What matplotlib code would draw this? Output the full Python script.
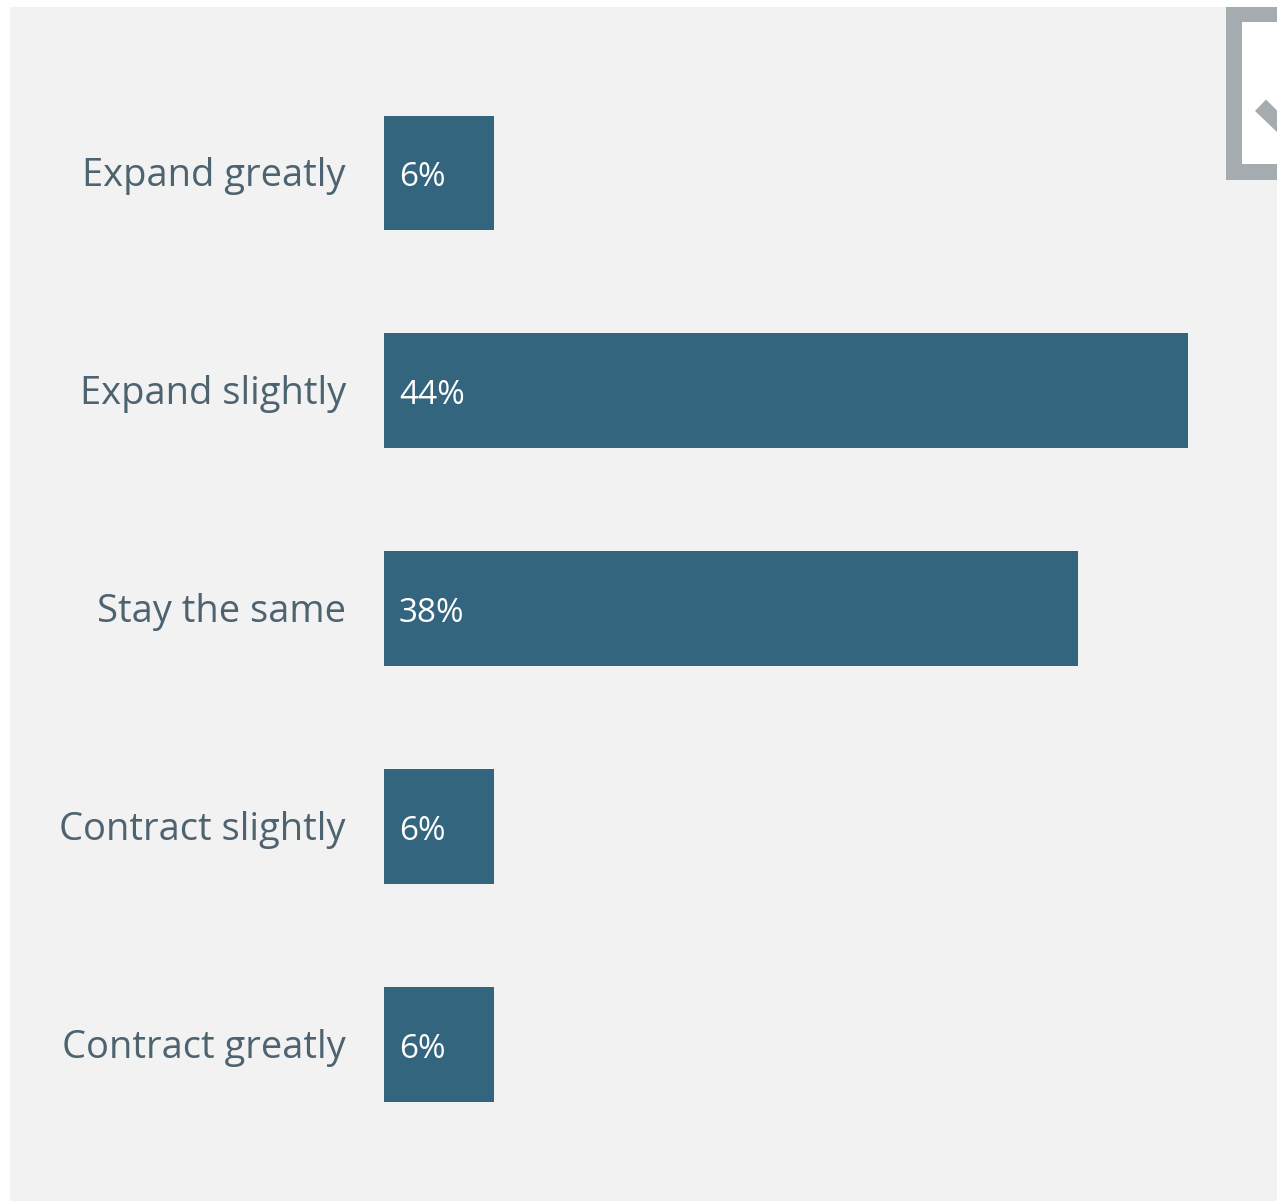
import matplotlib
matplotlib.use("Agg")
import matplotlib.pyplot as plt
from matplotlib.patches import Polygon, Rectangle
from matplotlib.transforms import ScaledTranslation

categories = ["Expand greatly", "Expand slightly", "Stay the same", "Contract slightly", "Contract greatly"]
values = [6, 44, 38, 6, 6]
labels = ["6%", "44%", "38%", "6%", "6%"]

W, H = 1277, 1201
BAR = "#34657f"
TEXT = "#4d6370"
PANEL = "#f2f2f2"
FRAME = "#a4acaf"

plt.rcParams["font.family"] = ["Open Sans", "DejaVu Sans"]
fig = plt.figure(figsize=(W / 100, H / 100), dpi=100, facecolor="white")

# Full-figure overlay in pixel coordinates for the panel and corner icon
bg = fig.add_axes([0, 0, 1, 1], zorder=0)
bg.set_xlim(0, W)
bg.set_ylim(H, 0)
bg.axis("off")
bg.add_patch(Rectangle((10, 6.5), W - 10, H - 6.5, fc=PANEL, ec="none"))
bg.add_patch(Rectangle((1226, 6.5), 51, 173.5, fc=FRAME, ec="none"))
bg.add_patch(Rectangle((1242, 22), 35, 142, fc="white", ec="none"))
bg.add_patch(Polygon([(1255, 111), (1266, 99.5), (1277, 110.5), (1277, 132)], fc=FRAME, ec="none"))

# Bar axes: x from 0 at the bar root, scale 18.25 px per percentage point
x0, x1 = 384.3, 1187.5
y_top, y_bot = 64, 1153.5
ax = fig.add_axes([x0 / W, 1 - y_bot / H, (x1 - x0) / W, (y_bot - y_top) / H], zorder=1)
ax.patch.set_alpha(0)
ax.set_xlim(0, 44)
ax.set_ylim(4.5, -0.5)
ax.barh(range(5), values, height=0.527, color=BAR)
for s in ax.spines.values():
    s.set_visible(False)
ax.set_xticks([])
ax.set_yticks(range(5))
ax.set_yticklabels(categories, fontsize=27.45, color=TEXT, va="center")
ax.tick_params(axis="y", length=0, pad=27.6)

# Nudge the category labels down so they sit level with the bar centres
nudge = ScaledTranslation(0, -3.2 / 100, fig.dpi_scale_trans)
for tick_label in ax.get_yticklabels():
    tick_label.set_transform(tick_label.get_transform() + nudge)

for i, lab in enumerate(labels):
    ax.text(0.8, i + 0.022, lab, color="white", fontsize=24, va="center", ha="left")

fig.savefig("out.png", dpi=100)
